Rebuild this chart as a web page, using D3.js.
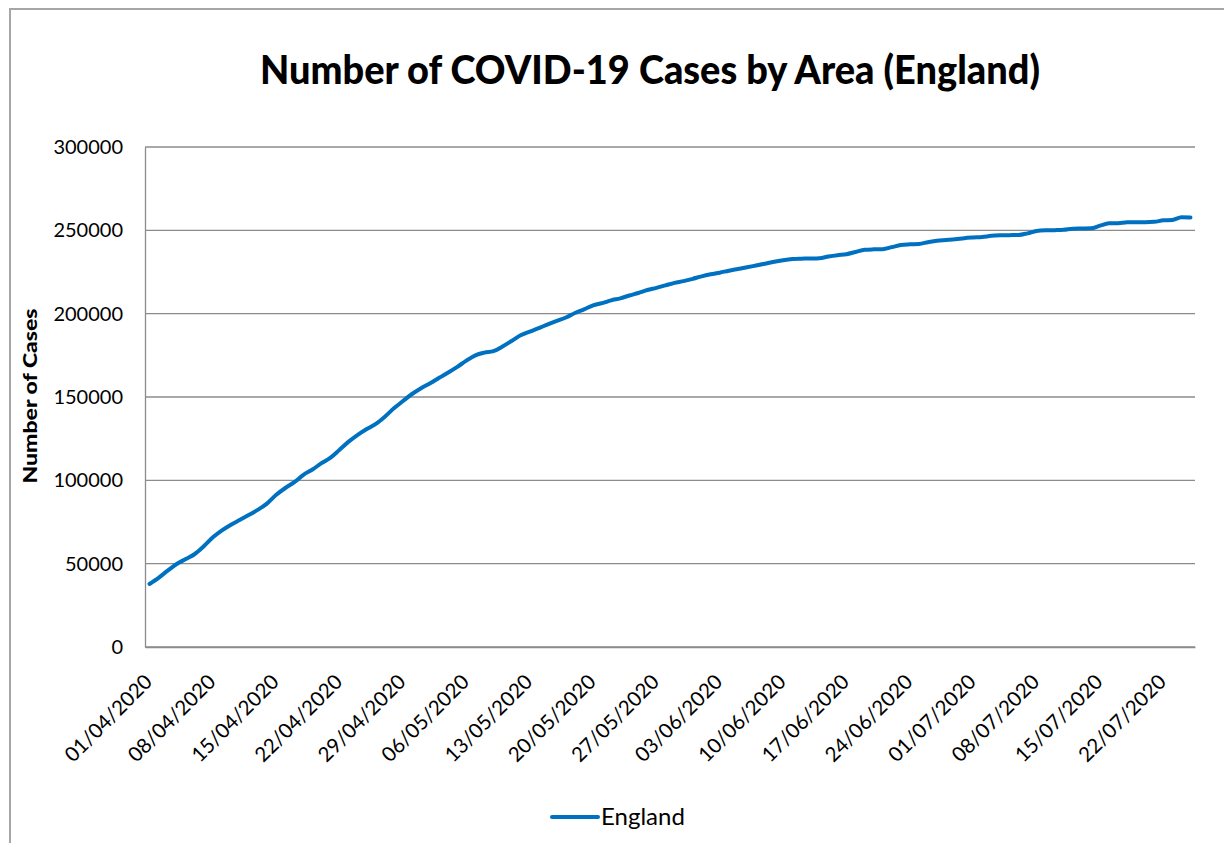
<!DOCTYPE html>
<html>
<head>
<meta charset="utf-8">
<script src="https://cdn.jsdelivr.net/npm/d3@7"></script>
<style>
  html, body { margin: 0; padding: 0; background: #ffffff; }
  svg { display: block; }
  text { font-family: Lato, "Open Sans", sans-serif; fill: #000; }
</style>
</head>
<body>
<svg id="chart" width="1224" height="843"></svg>
<script>
// Daily categories: 01/04/2020 through 25/07/2020
const startDate = new Date(2020, 3, 1);
const endDate = new Date(2020, 6, 26);
const dates = d3.timeDay.range(startDate, endDate);

// Cumulative confirmed cases, England
const cases = [
  37800, 41500, 45800, 49800, 52800, 55800, 60500, 65800, 70000, 73400,
  76300, 79300, 82400, 86200, 91300, 95400, 98900, 103300, 106500, 110300,
  113600, 118400, 123200, 127300, 130800, 133900, 138200, 143200, 147600, 151800,
  155300, 158200, 161500, 164700, 168100, 171800, 175000, 176600, 177500, 180300,
  183600, 187000, 189200, 191300, 193600, 195700, 197700, 200400, 202600, 205000,
  206300, 208000, 209200, 210900, 212400, 214200, 215500, 217000, 218500, 219500,
  220900, 222400, 223600, 224600, 225800, 226800, 227800, 228900, 230000, 231100,
  232100, 232800, 233000, 233100, 233300, 234300, 235100, 235700, 237000, 238300,
  238600, 238700, 239900, 241200, 241600, 241800, 242900, 243800, 244200, 244600,
  245300, 245700, 246000, 246700, 247000, 247100, 247200, 248200, 249600, 250000,
  250100, 250300, 251000, 251100, 251200, 252800, 254200, 254300, 254800, 254900,
  254900, 255100, 256000, 256200, 257800, 257700
];

const yTicks = [0, 50000, 100000, 150000, 200000, 250000, 300000];
const xTickLabels = [
  "01/04/2020", "08/04/2020", "15/04/2020", "22/04/2020", "29/04/2020",
  "06/05/2020", "13/05/2020", "20/05/2020", "27/05/2020", "03/06/2020",
  "10/06/2020", "17/06/2020", "24/06/2020", "01/07/2020", "08/07/2020",
  "15/07/2020", "22/07/2020"
];

const chartTitle = "Number of COVID-19 Cases by Area (England)";
const yTitle = "Number of Cases";
const seriesName = "England";

const fmt = d3.timeFormat("%d/%m/%Y");
const categories = dates.map(fmt);
const rows = categories.map((c, i) => ({ cat: c, value: cases[i] }));

const svg = d3.select("#chart");
const plot = { left: 145, right: 1195, top: 147, bottom: 647 };
const gridColor = "#8c8c8c";
const lineColor = "#0070c0";

// Outer chart frame
svg.append("rect")
  .attr("x", 10).attr("y", 9)
  .attr("width", 1240).attr("height", 860)
  .attr("fill", "none")
  .attr("stroke", "#a6a6a6")
  .attr("stroke-width", 2);

const x = d3.scaleBand()
  .domain(categories)
  .range([plot.left, plot.right])
  .padding(0);
const xc = c => x(c) + x.bandwidth() / 2;

const y = d3.scaleLinear()
  .domain([0, 300000])
  .range([plot.bottom, plot.top]);

// Horizontal gridlines
svg.append("g")
  .selectAll("line")
  .data(yTicks)
  .join("line")
  .attr("x1", plot.left).attr("x2", plot.right)
  .attr("y1", d => y(d)).attr("y2", d => y(d))
  .attr("stroke", gridColor)
  .attr("stroke-width", 1.3);

// Y axis
const yAxis = svg.append("g")
  .attr("transform", `translate(${plot.left},0)`)
  .call(d3.axisLeft(y).tickValues(yTicks).tickSize(0).tickPadding(22).tickFormat(d3.format("d")));
yAxis.select(".domain").attr("stroke", gridColor).attr("stroke-width", 1.3);
yAxis.selectAll("text")
  .style("font-family", "Lato, 'Open Sans', sans-serif")
  .style("font-size", "20px")
  .attr("fill", "#000");

// X axis
const xAxis = svg.append("g")
  .attr("transform", `translate(0,${plot.bottom})`)
  .call(d3.axisBottom(x).tickValues(xTickLabels).tickSize(0));
xAxis.select(".domain").attr("stroke", gridColor).attr("stroke-width", 1.3);
xAxis.selectAll(".tick text")
  .style("font-family", "Lato, 'Open Sans', sans-serif")
  .style("font-size", "20.5px")
  .attr("fill", "#000")
  .attr("text-anchor", "end")
  .attr("dy", null)
  .attr("y", 0)
  .attr("transform", "translate(4,36) rotate(-45)");

// Series line
const line = d3.line()
  .x(d => xc(d.cat))
  .y(d => y(d.value))
  .curve(d3.curveMonotoneX);

svg.append("path")
  .datum(rows)
  .attr("d", line)
  .attr("fill", "none")
  .attr("stroke", lineColor)
  .attr("stroke-width", 4)
  .attr("stroke-linejoin", "round")
  .attr("stroke-linecap", "round");

// Title
svg.append("text")
  .attr("x", 650).attr("y", 84)
  .attr("text-anchor", "middle")
  .attr("textLength", 780)
  .attr("lengthAdjust", "spacingAndGlyphs")
  .style("font-weight", "900")
  .style("font-size", "40px")
  .text(chartTitle);

// Y axis title
svg.append("text")
  .attr("transform", "translate(37,396) rotate(-90)")
  .attr("text-anchor", "middle")
  .attr("textLength", 175)
  .attr("lengthAdjust", "spacingAndGlyphs")
  .style("font-weight", "900")
  .style("font-size", "18px")
  .text(yTitle);

// Legend
const legend = svg.append("g");
legend.append("line")
  .attr("x1", 552).attr("x2", 598)
  .attr("y1", 817).attr("y2", 817)
  .attr("stroke", lineColor)
  .attr("stroke-width", 4)
  .attr("stroke-linecap", "round");
legend.append("text")
  .attr("x", 601).attr("y", 825)
  .style("font-size", "24px")
  .text(seriesName);
</script>
</body>
</html>
